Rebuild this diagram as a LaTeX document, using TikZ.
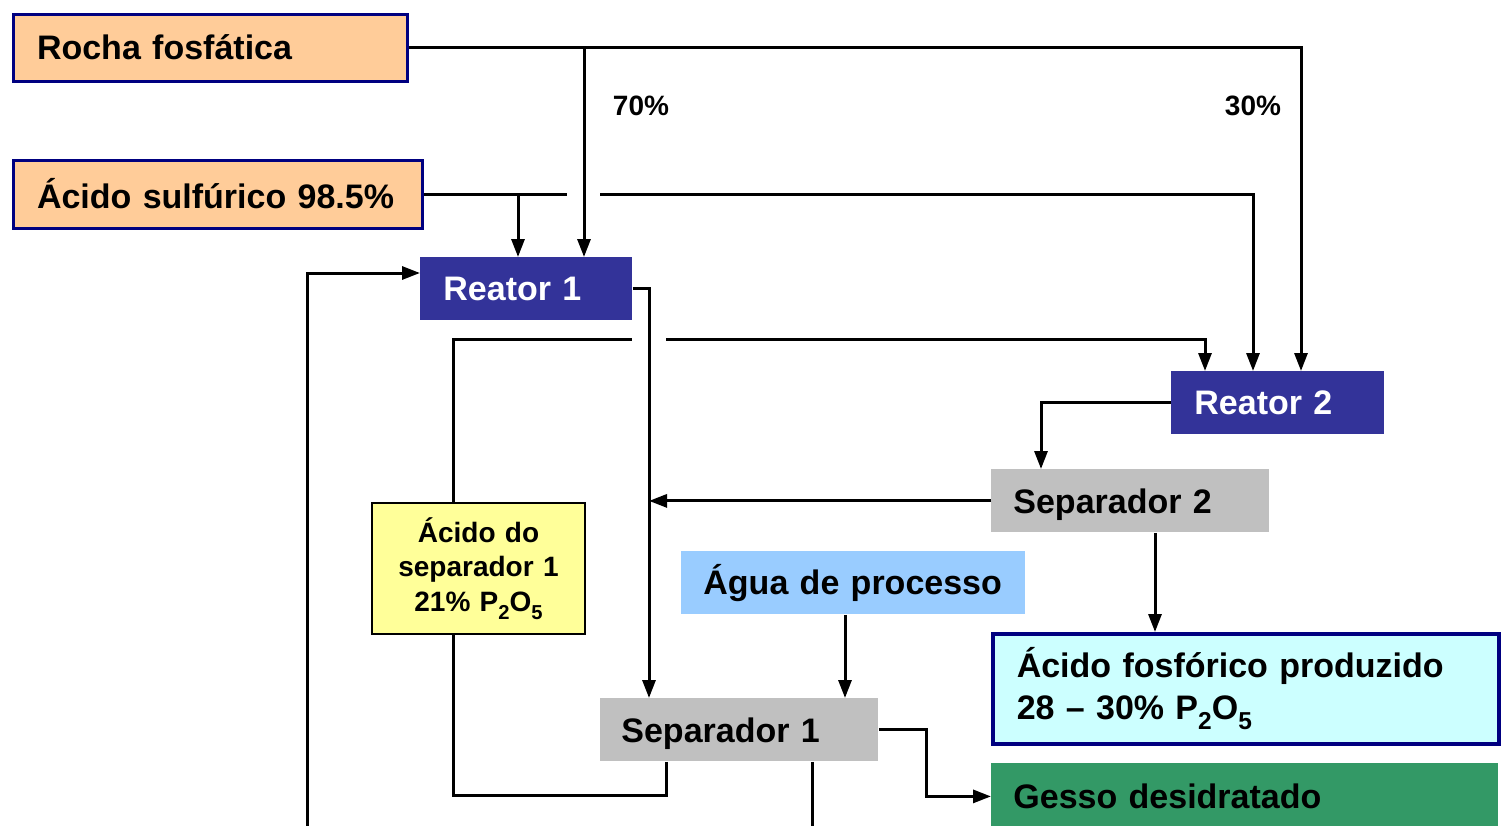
\documentclass[tikz,border=0pt]{standalone}
\usepackage{fontspec}
\setmainfont{Liberation Sans}
\usepackage{graphicx}
\usepackage{tikz}
\usetikzlibrary{arrows.meta,positioning,calc}
\definecolor{RochaPeach}{HTML}{FFCC99}
\definecolor{BorderNavy}{HTML}{000080}
\definecolor{ReatorBlue}{HTML}{333399}
\definecolor{SepGrey}{HTML}{C0C0C0}
\definecolor{AguaBlue}{HTML}{99CCFF}
\definecolor{AcidYellow}{HTML}{FFFF99}
\definecolor{ProdCyan}{HTML}{CCFFFF}
\definecolor{GessoGreen}{HTML}{339966}
\newcommand{\lowsub}[1]{\raisebox{-0.3em}{\scalebox{0.72}{#1}}}

\begin{document}
\begin{tikzpicture}[x=0.5pt,y=-0.5pt,
  box/.style={anchor=north west,inner ysep=0pt,align=left,font=\bfseries\fontsize{17}{21}\selectfont},
  pipe/.style={line width=1.5pt},
  flow/.style={line width=1.5pt,-{Triangle[length=9pt,width=6.5pt]}}]
  \useasboundingbox (0,0) rectangle (1505,825);
  \clip (0,0) rectangle (1505,825);

  \node[box,draw=BorderNavy,line width=1.5pt,fill=RochaPeach,minimum height=33.5pt,text width=173pt,inner xsep=12pt] (rocha) at (11.5,12.5) {Rocha fosfática};
  \node[box,draw=BorderNavy,line width=1.5pt,fill=RochaPeach,minimum height=34pt,text width=180.5pt,inner xsep=12pt] (sulf) at (11.5,158.5) {Ácido sulfúrico 98.5\%};
  \node[box,fill=ReatorBlue,text=white,minimum height=31.5pt,text width=83pt,inner xsep=11.5pt] (r1) at (420,257) {Reator 1};
  \node[box,fill=ReatorBlue,text=white,minimum height=31.5pt,text width=83.5pt,inner xsep=11.5pt] (r2) at (1171,371) {Reator 2};
  \node[box,fill=SepGrey,minimum height=31.5pt,text depth=0pt,text width=117pt,inner xsep=11pt] (sep2) at (991,469) {Separador 2};
  \node[box,fill=AguaBlue,minimum height=31.5pt,text width=150pt,inner xsep=11pt] (agua) at (681,551) {Água de processo};
  \node[box,draw=black,line width=1pt,fill=AcidYellow,align=center,minimum height=65.5pt,text width=98.5pt,inner xsep=4pt,font=\bfseries\fontsize{14}{17.25}\selectfont] (acsep1) at (371,502) {Ácido do\\separador 1\\21\% P\lowsub{2}O\lowsub{5}};
  \node[box,draw=BorderNavy,line width=1.75pt,fill=ProdCyan,minimum height=55pt,text width=229pt,inner xsep=12pt] (fosf) at (991,632) {Ácido fosfórico produzido\\28 -- 30\% P\lowsub{2}O\lowsub{5}};
  \node[box,fill=SepGrey,minimum height=31.5pt,text depth=0pt,text width=118pt,inner xsep=10.5pt] (sep1) at (600,698) {Separador 1};
  \node[box,fill=GessoGreen,minimum height=33pt,text width=231.5pt,inner xsep=11pt] (gesso) at (991,763) {Gesso desidratado};

  \node[font=\bfseries\fontsize{14}{17}\selectfont] (p70) at (641,106) {70\%};
  \node[font=\bfseries\fontsize{14}{17}\selectfont] (p30) at (1253,106) {30\%};

  \coordinate (x70) at (584,0);
  \coordinate (x30) at (1301,0);
  \coordinate (xh1) at (518,0);
  \coordinate (xh2) at (1253,0);
  \coordinate (gap1a) at (567,0);
  \coordinate (gap1b) at (600,0);
  \coordinate (xr1) at (649,0);
  \coordinate (xrec) at (453,0);
  \coordinate (gap2a) at (632,0);
  \coordinate (gap2b) at (666,0);
  \coordinate (xr2) at (1205,0);
  \coordinate (yrec) at (0,339);
  \coordinate (yloop) at (0,795);
  \coordinate (xsep2) at (1041,0);
  \coordinate (xprod) at (1155,0);
  \coordinate (xagua) at (845,0);
  \coordinate (xgesso) at (926,0);
  \coordinate (xout) at (812,0);
  \coordinate (xleft) at (307,0);
  \coordinate (yleft) at (0,273);
  \coordinate (ybot) at (0,830);

  \draw[flow] (rocha.east) -| (x30 |- r2.north);
  \draw[flow] (rocha.east -| x70) -- (x70 |- r1.north);
  \draw[pipe] (sulf.east) -- (sulf.east -| gap1a);
  \draw[flow] (sulf.east -| gap1b) -| (xh2 |- r2.north);
  \draw[flow] (sulf.east -| xh1) -- (xh1 |- r1.north);
  \draw[flow] (r1.east) -| (xr1 |- sep1.north);
  \draw[pipe] (sep1.south -| gap2b) |- (yloop -| xrec) -- (xrec |- acsep1.south);
  \draw[pipe] (xrec |- acsep1.north) |- (yrec -| gap2a);
  \draw[flow] (yrec -| gap2b) -| (xr2 |- r2.north);
  \draw[flow] (r2.west) -| (xsep2 |- sep2.north);
  \draw[flow] (sep2.west) -- (sep2.west -| xr1);
  \draw[flow] (xprod |- sep2.south) -- (xprod |- fosf.north);
  \draw[flow] (xagua |- agua.south) -- (xagua |- sep1.north);
  \draw[flow] (sep1.east) -| (xgesso |- gesso.west) -- (gesso.west);
  \draw[pipe] (xout |- sep1.south) -- (xout |- ybot);
  \draw[flow] (xleft |- ybot) |- (r1.west |- yleft);
\end{tikzpicture}
\end{document}
